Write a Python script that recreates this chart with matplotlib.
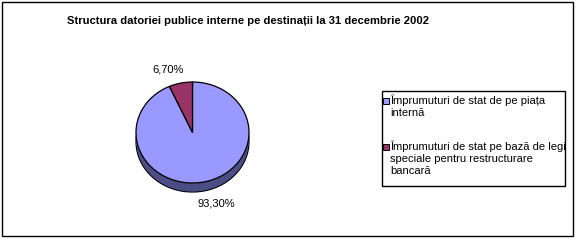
import matplotlib
matplotlib.use('Agg')
import matplotlib.pyplot as plt
from matplotlib.patches import Rectangle

plt.rcParams['font.family'] = ['Liberation Sans', 'DejaVu Sans']

title = 'Structura datoriei publice interne pe destinații la 31 decembrie 2002'
labels = ['Împrumuturi de stat de pe piața\ninternă',
          'Împrumuturi de stat pe bază de legi\nspeciale pentru restructurare\nbancară']
shares = [93.30, 6.70]
pct_text = ['93,30%', '6,70%']
face_cols = ['#9999FF', '#993366']
side_cols = ['#4D4D85', '#4D1A33']

W, H = 576, 242
fig = plt.figure(figsize=(W / 100, H / 100), dpi=100)

# background axes in pixel units
bg = fig.add_axes([0, 0, 1, 1])
bg.set_xlim(0, W)
bg.set_ylim(H, 0)
bg.axis('off')
bg.add_patch(Rectangle((1.5, 1.5), 571, 234, fill=False, lw=1, ec='black'))
bg.text(248, 20.5, title, ha='center', va='center', fontsize=8.1, fontweight='bold')

# pie axes, squashed so the circle becomes a tilted ellipse
px_l, px_r, px_t, px_b = 136, 249, 82, 183
depth = 9
face_h = px_b - px_t
ext = 2 * depth / face_h
ax = fig.add_axes([px_l / W, (H - px_b - depth) / H, (px_r - px_l) / W, (face_h + depth) / H])

for k in range(depth * 2, 0, -1):
    off = k / (depth * 2) * ext
    ax.pie(shares, colors=side_cols, startangle=90, counterclock=False,
           center=(0, -off), radius=1, frame=True,
           wedgeprops=dict(lw=0))
# outline of the side
ax.pie(shares, colors=side_cols, startangle=90, counterclock=False,
       center=(0, -ext), radius=1, frame=True,
       wedgeprops=dict(lw=0.9, ec='black'))
for k in range(depth * 2, 0, -1):
    off = k / (depth * 2) * ext
    ax.pie(shares, colors=side_cols, startangle=90, counterclock=False,
           center=(0, -off), radius=0.99, frame=True,
           wedgeprops=dict(lw=0))
ax.pie(shares, colors=face_cols, startangle=90, counterclock=False,
       center=(0, 0), radius=1, frame=True,
       wedgeprops=dict(lw=0.9, ec='black'))
ax.set_aspect('auto')
ax.set_xlim(-1, 1)
ax.set_ylim(-1 - ext, 1)
ax.axis('off')

# percentage labels
bg.text(216, 203, pct_text[0], ha='center', va='center', fontsize=8)
bg.text(168, 70, pct_text[1], ha='center', va='center', fontsize=8)

# legend box
bg.add_patch(Rectangle((381.5, 90.5), 183, 95, fill=False, lw=1, ec='black'))
leg_y = [101, 147]
for lab, col, y in zip(labels, face_cols, leg_y):
    bg.add_patch(Rectangle((383, y - 3), 6, 6, fc=col, ec='black', lw=0.7))
    bg.text(390, y - 6.5, lab, ha='left', va='top', fontsize=8, linespacing=1.25)

fig.savefig('out.png', dpi=100)
